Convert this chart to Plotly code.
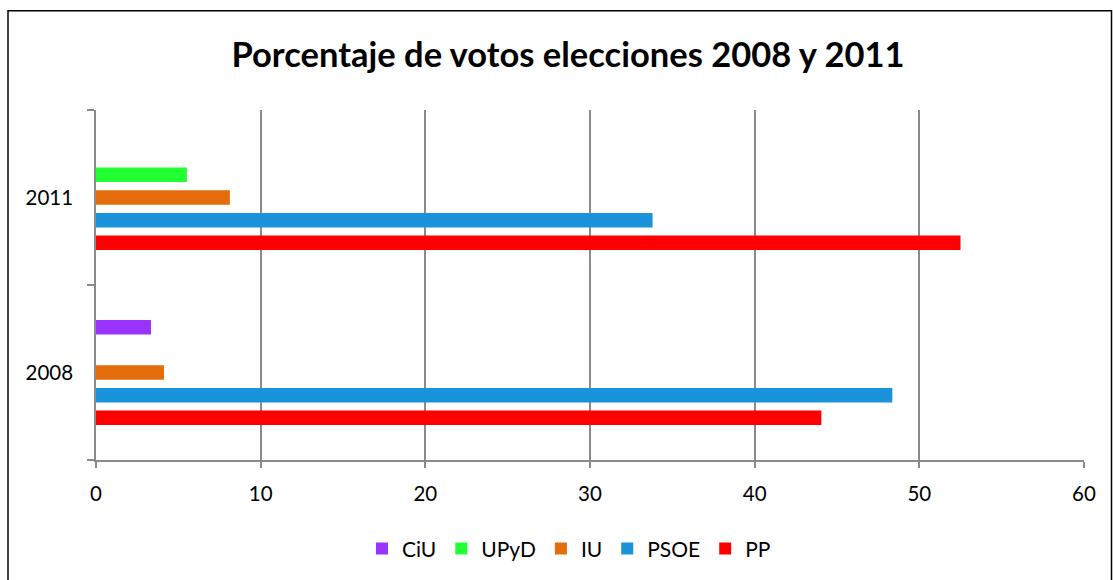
import plotly.graph_objects as go

years = ["2008", "2011"]
series_names = ["CiU", "UPyD", "IU", "PSOE", "PP"]
ciu = [3.34, None]
upyd = [None, 5.52]
iu = [4.13, 8.13]
psoe = [48.36, 33.8]
pp = [44.05, 52.5]
colors = {"CiU": "#9933FF", "UPyD": "#22FF33", "IU": "#E46C0A", "PSOE": "#1B93DB", "PP": "#FF0000"}
values = {"CiU": ciu, "UPyD": upyd, "IU": iu, "PSOE": psoe, "PP": pp}
x_ticks = [0, 10, 20, 30, 40, 50, 60]

FONT = "Lato"
fig = go.Figure()
for name in reversed(series_names):
    fig.add_trace(go.Bar(
        y=years, x=values[name], name=name, orientation="h",
        marker=dict(color=colors[name], line=dict(width=0)),
    ))

fig.update_layout(
    width=1113, height=580,
    margin=dict(l=96, r=29, t=110, b=119),
    paper_bgcolor="white", plot_bgcolor="white",
    barmode="group", bargap=0.353, bargroupgap=0.36,
    font=dict(family=FONT, color="black", size=20.5),
    title=dict(text="<b>Porcentaje de votos elecciones 2008 y 2011</b>",
               x=568 / 1113, xref="container", xanchor="center", y=1 - 55 / 580, yanchor="middle",
               font=dict(family=FONT, size=34.5, color="black")),
    legend=dict(orientation="h", traceorder="reversed", x=(569 - 96) / 988, xanchor="center",
                y=-0.25, yanchor="middle", font=dict(family=FONT, size=21),
                itemwidth=30),
    showlegend=True,
)
fig.update_xaxes(range=[0, 60], tickvals=x_ticks, showgrid=True, gridcolor="#8a8a8a", gridwidth=1.5,
                 showline=True, linecolor="#8a8a8a", linewidth=1.5, ticks="outside", ticklen=6,
                 tickcolor="#8a8a8a", tickwidth=1.5, zeroline=False, tickfont=dict(size=20.5),
                 ticklabelstandoff=9)
fig.update_yaxes(type="category", categoryorder="array", categoryarray=years,
                 tickson="boundaries", ticks="outside", ticklen=7, tickcolor="#8a8a8a", tickwidth=1.5,
                 showline=True, linecolor="#8a8a8a", linewidth=1.5, showgrid=False,
                 tickfont=dict(size=20.5), ticklabelstandoff=17)

# outer chart border
fig.add_shape(type="rect", xref="paper", yref="paper",
              x0=(8 - 96) / (1113 - 96 - 29), x1=(1111.5 - 96) / (1113 - 96 - 29),
              y0=-(600 - 461) / (461 - 110), y1=1 + (110 - 10.5) / (461 - 110),
              line=dict(color="black", width=1.5), layer="below")

fig.write_html("out.html", config={"displayModeBar": False},
               post_script="document.body.style.margin='0';")
